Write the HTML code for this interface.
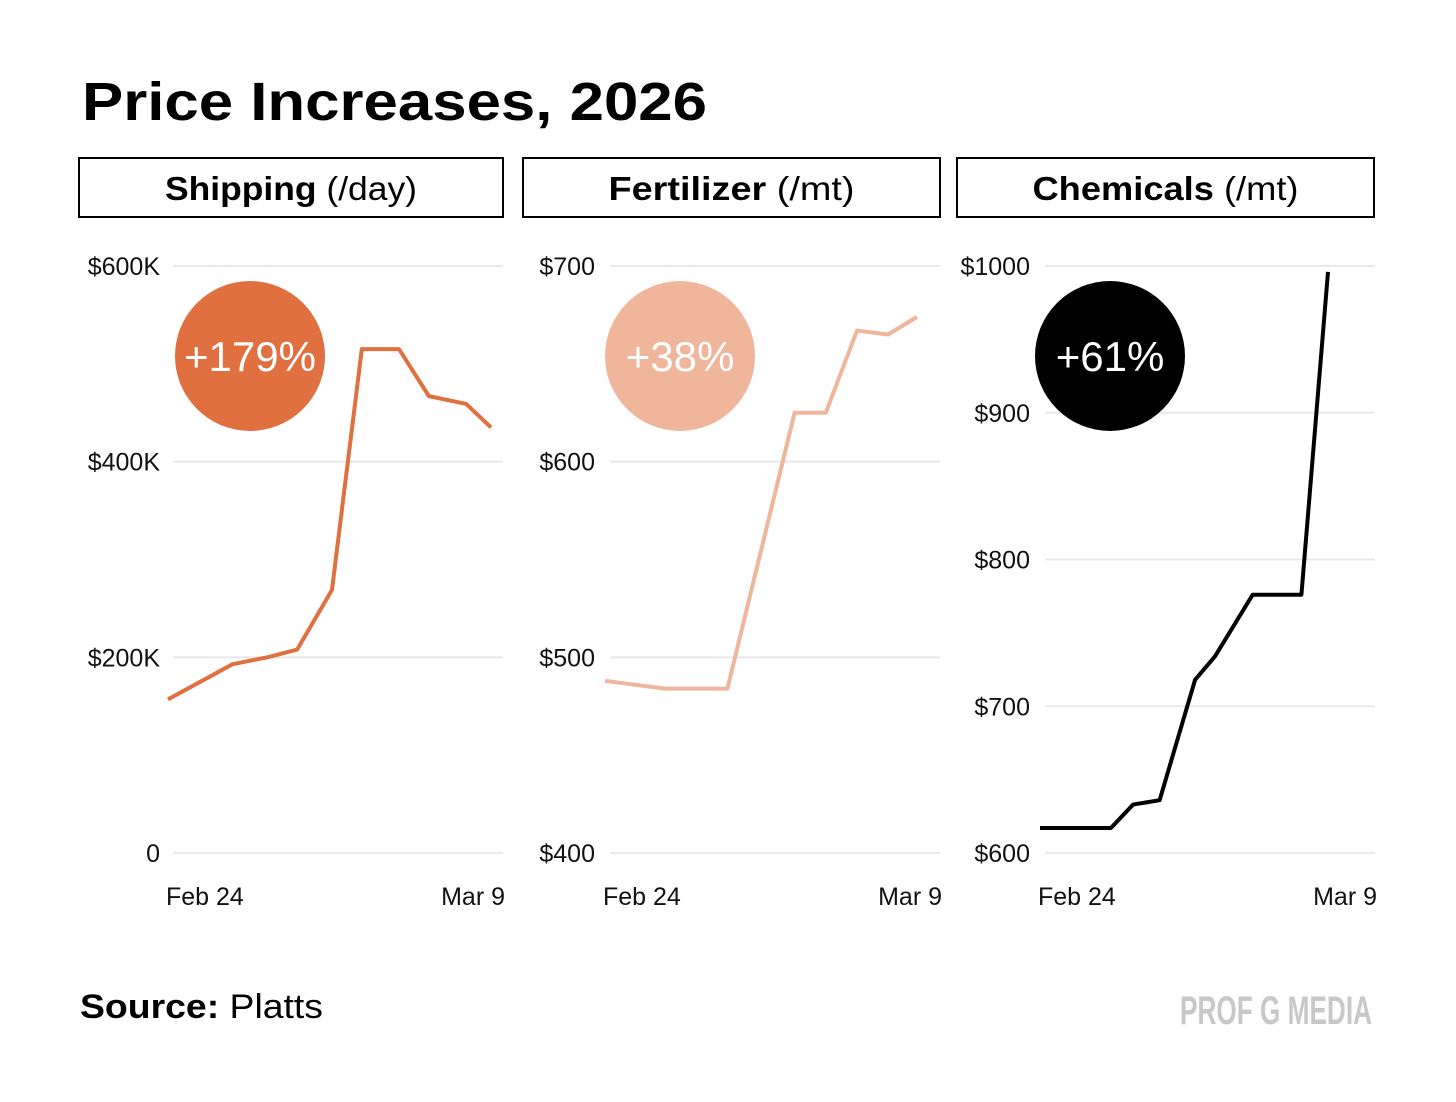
<!DOCTYPE html>
<html><head><meta charset="utf-8">
<style>
body{margin:0;background:#fff;width:1456px;height:1097px;overflow:hidden;font-family:"Liberation Sans",sans-serif}
svg text{font-family:"Liberation Sans",sans-serif}
</style></head>
<body>
<svg id="c" width="1456" height="1097">
<text x="82" y="120" font-size="54" font-weight="bold" fill="#000" textLength="625" lengthAdjust="spacingAndGlyphs">Price Increases, 2026</text>
<text x="80" y="1018" font-size="34" fill="#000" textLength="243" lengthAdjust="spacingAndGlyphs"><tspan font-weight="bold">Source:</tspan> Platts</text>
<text x="1372" y="1024" font-size="40" font-weight="bold" fill="#c8c8c8" text-anchor="end" textLength="192" lengthAdjust="spacingAndGlyphs">PROF G MEDIA</text>
</svg>
<script>
const shipDays=[0,2.6,4,5.2,6.6,7.8,9.3,10.5,12,13];
const shipVals=[157,193,200,208,269,515,515,467,459,435];
const shipTicks=[0,200,400,600];
const shipTickLabels=["0","$200K","$400K","$600K"];
const fertDays=[0,2.5,5.1,7.9,9.2,10.5,11.8,13];
const fertVals=[488,484,484,625,625,667,665,674];
const fertTicks=[400,500,600,700];
const fertTickLabels=["$400","$500","$600","$700"];
const chemDays=[0,3.2,4.2,5.4,7,7.9,9.6,11.8,13];
const chemVals=[617,617,633,636,718,734,776,776,996];
const chemTicks=[600,700,800,900,1000];
const chemTickLabels=["$600","$700","$800","$900","$1000"];
const xLabels=["Feb 24","Mar 9"];
const panels=[
 {title:"Shipping",unit:" (/day)",days:shipDays,vals:shipVals,ticks:shipTicks,labels:shipTickLabels,min:0,max:600,color:"#e07040",badge:"+179%",badgeColor:"#e07040",box:[79,503],grid:[173,503],lx:[168,491],lab:160,name:"shipping",tl:252},
 {title:"Fertilizer",unit:" (/mt)",days:fertDays,vals:fertVals,ticks:fertTicks,labels:fertTickLabels,min:400,max:700,color:"#efb69c",badge:"+38%",badgeColor:"#efb69c",box:[523,940],grid:[610,940],lx:[605,917],lab:595,name:"fertilizer",tl:246},
 {title:"Chemicals",unit:" (/mt)",days:chemDays,vals:chemVals,ticks:chemTicks,labels:chemTickLabels,min:600,max:1000,color:"#000",badge:"+61%",badgeColor:"#000",box:[957,1374],grid:[1045,1375],lx:[1040,1328],lab:1030,name:"chemicals",tl:266}
];
const svg=document.getElementById('c');const NS="http://www.w3.org/2000/svg";
function mk(t,a,txt){const e=document.createElementNS(NS,t);for(const k in a)e.setAttribute(k,a[k]);if(txt!=null)e.textContent=txt;svg.appendChild(e);return e;}
panels.forEach(p=>{
 const y=v=>853-(v-p.min)/(p.max-p.min)*587;
 const x=d=>p.lx[0]+d/13*(p.lx[1]-p.lx[0]);
 let e=mk('rect',{x:p.box[0],y:158,width:p.box[1]-p.box[0],height:59,fill:"none",stroke:"#000","stroke-width":2});
 
 
 e=mk('text',{x:(p.box[0]+p.box[1])/2,y:200,"font-size":33,"text-anchor":"middle",textLength:p.tl,lengthAdjust:"spacingAndGlyphs"});
 e.innerHTML='<tspan font-weight="bold">'+p.title+'</tspan>'+p.unit;
 
 
 p.ticks.forEach((t,i)=>{
  e=mk('line',{x1:p.grid[0],x2:p.grid[1],y1:y(t),y2:y(t),stroke:"#e8e8e8","stroke-width":2});
  
  
  e=mk('text',{x:p.lab,y:y(t)+9,"font-size":25,"text-anchor":"end",fill:"#111"},p.labels[i]);
  
  
 });
 e=mk('text',{x:p.lx[0]-2,y:905,"font-size":25,fill:"#111"},xLabels[0]);
 
 
 e=mk('text',{x:p.grid[1]+2,y:905,"font-size":25,"text-anchor":"end",fill:"#111"},xLabels[1]);
 
 
 e=mk('polyline',{points:p.days.map((d,i)=>x(d)+","+y(p.vals[i])).join(" "),fill:"none",stroke:p.color,"stroke-width":4,"stroke-linejoin":"round"});
 
 
 const cx=p.box[0]+ (p.name==="shipping"?171:(p.name==="fertilizer"?157:153));
 e=mk('circle',{cx:cx,cy:356,r:75,fill:p.badgeColor});
 
 
 e=mk('text',{x:cx,y:371,"font-size":42,"text-anchor":"middle",fill:"#fff"},p.badge);
 
 
});
</script>
</body></html>
